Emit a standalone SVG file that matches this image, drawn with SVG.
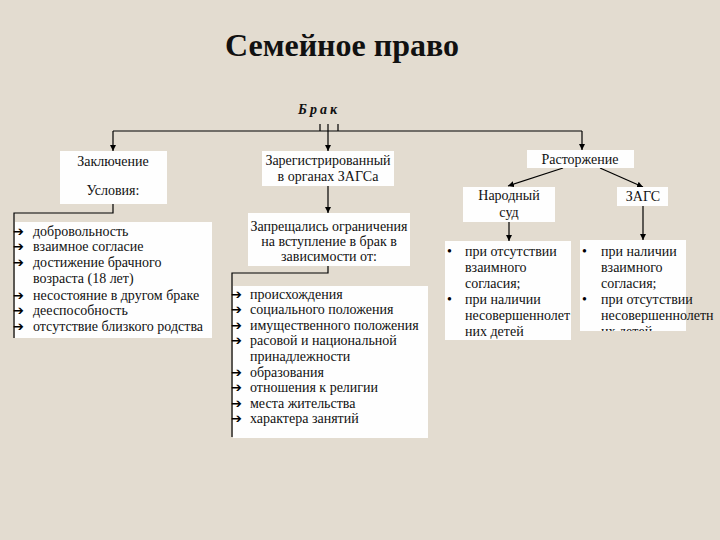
<svg xmlns="http://www.w3.org/2000/svg" width="720" height="540" viewBox="0 0 720 540">
<defs>
<marker id="ah" viewBox="0 0 10 10" refX="10" refY="5" markerWidth="6" markerHeight="6" orient="auto" markerUnits="userSpaceOnUse"><path d="M0,0 L10,5 L0,10 z" fill="#000"/></marker>
<clipPath id="clipR"><rect x="580" y="240" width="106" height="91"/></clipPath>
<style>
.bg{fill:#e3dcd0}
.box{fill:#fefefe}
.t{font-family:"Liberation Serif","Times New Roman",serif;font-size:14px;fill:#111}
.c{text-anchor:middle}
.ar{font-family:"DejaVu Sans",sans-serif;font-size:13px;font-weight:bold;fill:#000}
.bu{font-family:"Liberation Serif",serif;font-size:14px;fill:#000}
.ln{fill:none;stroke:#000;stroke-width:1.2}
.arw{fill:none;stroke:#000;stroke-width:1.2;marker-end:url(#ah)}
</style>
</defs>
<rect class="bg" x="0" y="0" width="720" height="540"/>
<text x="342" y="56" text-anchor="middle" font-family="Liberation Serif, serif" font-size="32" font-weight="bold" fill="#111">Семейное право</text>
<g id="brak"><text x="319" y="114" text-anchor="middle" class="t" font-weight="bold" font-style="italic" letter-spacing="3">Брак</text></g>

<g id="connectors">
<path class="ln" d="M113,131 H582"/>
<path class="arw" d="M113,131 V151"/>
<path class="arw" d="M582,131 V150"/>
<path class="ln" d="M320,124 V131 M338,124 V131"/>
<path class="arw" d="M328,124 V151"/>
<path class="arw" d="M113,168 V184"/>
<path class="ln" d="M113,196 V213 H14 V338"/>
<path class="arw" d="M328,186 V213"/>
<path class="ln" d="M328,266 V273 H232 V437"/>
<path class="arw" d="M563,168 L508,186"/>
<path class="arw" d="M600,168 L643,187"/>
<path class="arw" d="M509,222 V241"/>
<path class="arw" d="M643,206 V240"/>
</g>

<g id="zakl">
<rect class="box" x="60" y="151" width="107" height="53"/>
<text class="t c" x="113" y="166">Заключение</text>
<text class="t c" x="113" y="195">Условия:</text>
</g>

<g id="list1">
<rect class="box" x="15" y="222" width="197" height="116"/>
<g class="ar">
<text x="13" y="236">➔</text><text x="13" y="251">➔</text><text x="13" y="267">➔</text>
<text x="13" y="300">➔</text><text x="13" y="315">➔</text><text x="13" y="331">➔</text>
</g>
<text class="t" x="33" y="236">добровольность</text>
<text class="t" x="33" y="251">взаимное согласие</text>
<text class="t" x="33" y="267">достижение брачного</text>
<text class="t" x="33" y="283">возраста (18 лет)</text>
<text class="t" x="33" y="300">несостояние в другом браке</text>
<text class="t" x="33" y="315">дееспособность</text>
<text class="t" x="33" y="331">отсутствие близкого родства</text>
</g>

<g id="zags-reg">
<rect class="box" x="262" y="151" width="132" height="35"/>
<text class="t c" x="328" y="165">Зарегистрированный</text>
<text class="t c" x="328" y="181">в органах ЗАГСа</text>
</g>

<g id="zapr">
<rect class="box" x="248" y="213" width="162" height="53"/>
<text class="t c" x="329" y="231">Запрещались ограничения</text>
<text class="t c" x="329" y="246">на вступление в брак в</text>
<text class="t c" x="329" y="261">зависимости от:</text>
</g>

<g id="list2">
<rect class="box" x="233" y="286" width="195" height="152"/>
<g class="ar">
<text x="231" y="299">➔</text><text x="231" y="314">➔</text><text x="231" y="330">➔</text><text x="231" y="345">➔</text>
<text x="231" y="377">➔</text><text x="231" y="392">➔</text><text x="231" y="408">➔</text><text x="231" y="423">➔</text>
</g>
<text class="t" x="250" y="299">происхождения</text>
<text class="t" x="250" y="314">социального положения</text>
<text class="t" x="250" y="330">имущественного положения</text>
<text class="t" x="250" y="345">расовой и национальной</text>
<text class="t" x="250" y="361">принадлежности</text>
<text class="t" x="250" y="377">образования</text>
<text class="t" x="250" y="392">отношения к религии</text>
<text class="t" x="250" y="408">места жительства</text>
<text class="t" x="250" y="423">характера занятий</text>
</g>

<g id="rastorzh">
<rect class="box" x="527" y="150" width="107" height="18"/>
<text class="t c" x="580" y="164">Расторжение</text>
</g>

<g id="narsud">
<rect class="box" x="463" y="187" width="92" height="35"/>
<text class="t c" x="509" y="200">Народный</text>
<text class="t c" x="509" y="217">суд</text>
</g>

<g id="zags">
<rect class="box" x="617" y="187" width="51" height="19"/>
<text class="t c" x="643" y="201">ЗАГС</text>
</g>

<g id="bulL">
<rect class="box" x="445" y="241" width="126" height="99"/>
<text class="bu" x="447" y="256">•</text>
<text class="bu" x="447" y="304">•</text>
<text class="t" x="465" y="256">при отсутствии</text>
<text class="t" x="465" y="272">взаимного</text>
<text class="t" x="465" y="288">согласия;</text>
<text class="t" x="465" y="304">при наличии</text>
<text class="t" x="465" y="320">несовершеннолет</text>
<text class="t" x="465" y="336">них детей</text>
</g>

<g id="bulR">
<rect class="box" x="580" y="240" width="106" height="91"/>
<text class="bu" x="582" y="256">•</text>
<text class="bu" x="582" y="304">•</text>
<text class="t" x="601" y="256">при наличии</text>
<text class="t" x="601" y="272">взаимного</text>
<text class="t" x="601" y="288">согласия;</text>
<text class="t" x="601" y="304">при отсутствии</text>
<text class="t" x="601" y="320">несовершеннолетн</text>
<text class="t" x="601" y="336" clip-path="url(#clipR)">их детей</text>
</g>
</svg>
